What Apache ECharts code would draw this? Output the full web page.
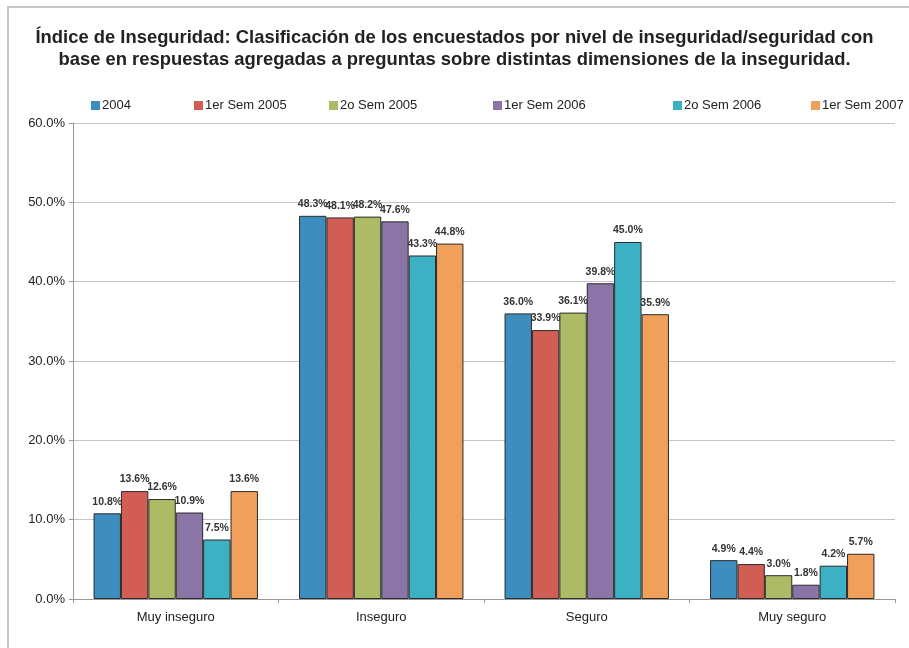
<!DOCTYPE html>
<html>
<head>
<meta charset="utf-8">
<script src="https://cdn.jsdelivr.net/npm/echarts@6/dist/echarts.min.js"></script>
<style>
  html, body { margin: 0; padding: 0; background: #fff; }
  #main { width: 909px; height: 648px; }
</style>
</head>
<body>
<div id="main"></div>
<script>
// categorias del eje x
var categorias = ['Muy inseguro', 'Inseguro', 'Seguro', 'Muy seguro'];
// periodos (series)
var periodos = ['2004', '1er Sem 2005', '2o Sem 2005', '1er Sem 2006', '2o Sem 2006', '1er Sem 2007'];
// valores en %
var v2004 = [10.8, 48.3, 36.0, 4.9];
var v1s2005 = [13.6, 48.1, 33.9, 4.4];
var v2s2005 = [12.6, 48.2, 36.1, 3.0];
var v1s2006 = [10.9, 47.6, 39.8, 1.8];
var v2s2006 = [7.5, 43.3, 45.0, 4.2];
var v1s2007 = [13.6, 44.8, 35.9, 5.7];
var valores = [v2004, v1s2005, v2s2005, v1s2006, v2s2006, v1s2007];
// ticks del eje y
var yMin = 0, yMax = 60, yPaso = 10;

var colores = ['#3d8dbf', '#d25d55', '#adbb66', '#8b75a6', '#3cb1c3', '#f0a05a'];
// posicion x de cada leyenda
var leyendaX = [86, 189, 324, 488, 668, 806];

var chart = echarts.init(document.getElementById('main'));

var series = [];
for (var i = 0; i < periodos.length; i++) {
    series.push({
        name: periodos[i],
        type: 'bar',
        data: valores[i],
        barGap: '0%',
        barCategoryGap: '20%',
        itemStyle: {
            color: colores[i],
            borderColor: '#2b2b2b',
            borderWidth: 1
        },
        label: {
            show: true,
            position: 'top',
            distance: 6,
            fontFamily: 'Liberation Sans, Arial',
            fontSize: 10.5,
            fontWeight: 'bold',
            color: '#333',
            formatter: function (p) {
                return p.value.toFixed(1) + '%';
            }
        }
    });
}

var leyendas = periodos.map(function (p, i) {
    return {
        data: [p],
        left: leyendaX[i],
        top: 94,
        itemWidth: 9,
        itemHeight: 9,
        itemGap: 0,
        icon: 'rect',
        itemStyle: { borderWidth: 0 },
        textStyle: {
            fontFamily: 'Liberation Sans, Arial',
            fontSize: 13,
            color: '#222',
            padding: [0, 0, 0, -3]
        }
    };
});

chart.setOption({
    animation: false,
    color: colores,
    title: {
        text: 'Índice de Inseguridad: Clasificación de los encuestados por nivel de inseguridad/seguridad con\nbase en respuestas agregadas a preguntas sobre distintas dimensiones de la inseguridad.',
        left: 'center',
        top: 22,
        textStyle: {
            fontFamily: 'Liberation Sans, Arial',
            fontSize: 18.4,
            fontWeight: 'bold',
            color: '#222',
            lineHeight: 22,
            align: 'center'
        }
    },
    graphic: [{
        type: 'rect',
        shape: { x: 8, y: 7, width: 920, height: 700 },
        style: { fill: 'none', stroke: '#c8c8c8', lineWidth: 2 },
        silent: true
    }],
    legend: leyendas,
    grid: {
        left: 73,
        right: 14,
        top: 123,
        bottom: 49
    },
    xAxis: {
        type: 'category',
        data: categorias,
        axisLine: { lineStyle: { color: '#999' } },
        axisTick: { show: true, alignWithLabel: false, length: 4, lineStyle: { color: '#999' } },
        axisLabel: {
            fontFamily: 'Liberation Sans, Arial',
            fontSize: 13,
            color: '#222',
            margin: 12
        }
    },
    yAxis: {
        type: 'value',
        min: yMin,
        max: yMax,
        interval: yPaso,
        axisLine: { show: true, lineStyle: { color: '#999' } },
        axisTick: { show: true, length: 4, lineStyle: { color: '#999' } },
        splitLine: { lineStyle: { color: '#c4c4c4' } },
        axisLabel: {
            fontFamily: 'Liberation Sans, Arial',
            fontSize: 13,
            color: '#222',
            margin: 8,
            formatter: function (v) {
                return v.toFixed(1) + '%';
            }
        }
    },
    series: series
});
</script>
</body>
</html>
